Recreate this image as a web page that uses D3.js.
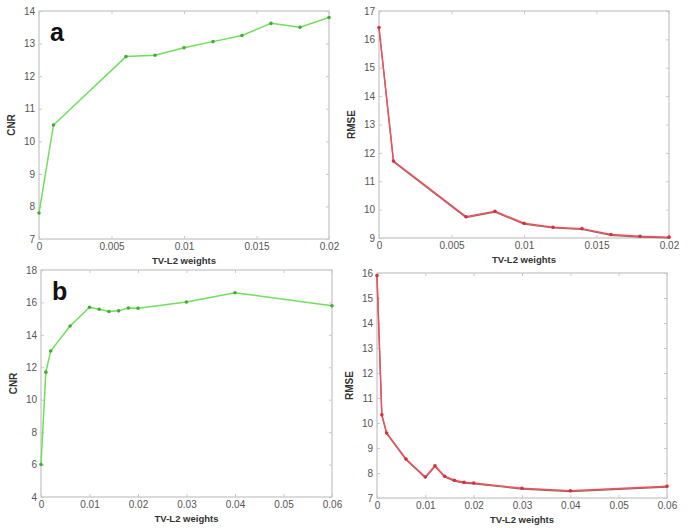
<!DOCTYPE html>
<html><head><meta charset="utf-8">
<script src="https://cdn.jsdelivr.net/npm/d3@7"></script>
<style>body{margin:0;background:#fff}svg{display:block}</style>
</head><body>
<script>
// ---- data ----
const xA = [0, 0.001, 0.006, 0.008, 0.01, 0.012, 0.014, 0.016, 0.018, 0.02];
const cnrA = [7.8, 10.5, 12.6, 12.64, 12.87, 13.06, 13.25, 13.62, 13.5, 13.8];
const rmseA = [16.42, 11.71, 9.75, 9.94, 9.52, 9.38, 9.33, 9.12, 9.06, 9.03];
const xB = [0, 0.001, 0.002, 0.006, 0.01, 0.012, 0.014, 0.016, 0.018, 0.02, 0.03, 0.04, 0.06];
const cnrB = [6.0, 11.7, 13.0, 14.55, 15.7, 15.58, 15.44, 15.48, 15.66, 15.64, 16.03, 16.6, 15.79];
const rmseB = [15.9, 10.33, 9.6, 8.56, 7.84, 8.29, 7.87, 7.71, 7.63, 7.6, 7.39, 7.29, 7.47];
const xTicksA = [0, 0.005, 0.01, 0.015, 0.02];
const xTicksB = [0, 0.01, 0.02, 0.03, 0.04, 0.05, 0.06];
const xTickLabelsA = ["0", "0.005", "0.01", "0.015", "0.02"];
const xTickLabelsB = ["0", "0.01", "0.02", "0.03", "0.04", "0.05", "0.06"];
const yTicksCnrA = [7, 8, 9, 10, 11, 12, 13, 14];
const yTicksRmseA = [9, 10, 11, 12, 13, 14, 15, 16, 17];
const yTicksCnrB = [4, 6, 8, 10, 12, 14, 16, 18];
const yTicksRmseB = [7, 8, 9, 10, 11, 12, 13, 14, 15, 16];

const W = 691, H = 528;
const svg = d3.select("body").append("svg").attr("width", W).attr("height", H);
const font = "Liberation Sans, Arial, sans-serif";

function panel(o) {
  const x = d3.scaleLinear().domain(o.xDom).range([o.l, o.r]);
  const y = d3.scaleLinear().domain(o.yDom).range([o.b, o.t]);
  const g = svg.append("g");
  const axisCol = "#c8c8c8";
  g.append("rect").attr("x", o.l).attr("y", o.t).attr("width", o.r - o.l).attr("height", o.b - o.t)
    .attr("fill", "none").attr("stroke", axisCol).attr("stroke-width", 1.3);
  const xa = d3.axisBottom(x).tickValues(o.xTicks).tickFormat((d, i) => o.xLabels[i]).tickSizeInner(-3).tickSizeOuter(0).tickPadding(4);
  const ya = d3.axisLeft(y).tickValues(o.yTicks).tickFormat(d3.format("d")).tickSizeInner(-3).tickSizeOuter(0).tickPadding(4);
  const gx = g.append("g").attr("transform", `translate(0,${o.b})`).call(xa);
  const gy = g.append("g").attr("transform", `translate(${o.l},0)`).call(ya);
  const gxt = g.append("g").attr("transform", `translate(0,${o.t})`).call(d3.axisTop(x).tickValues(o.xTicks).tickFormat("").tickSizeInner(-3).tickSizeOuter(0));
  const gyr = g.append("g").attr("transform", `translate(${o.r},0)`).call(d3.axisRight(y).tickValues(o.yTicks).tickFormat("").tickSizeInner(-3).tickSizeOuter(0));
  [gx, gy, gxt, gyr].forEach(a => {
    a.select(".domain").remove();
    a.selectAll(".tick line").attr("stroke", axisCol);
    a.selectAll("text").attr("fill", "#555").style("font-family", font).style("font-size", "10px");
  });
  g.append("text").attr("x", (o.l + o.r) / 2).attr("y", o.b + 25).attr("text-anchor", "middle")
    .style("font-family", font).style("font-size", "9.5px").style("font-weight", "bold").attr("fill", "#333").text("TV-L2 weights");
  g.append("text").attr("transform", `translate(${o.l - 24},${(o.t + o.b) / 2}) rotate(-90)`).attr("text-anchor", "middle")
    .style("font-family", font).style("font-size", "10px").style("font-weight", "bold").attr("fill", "#333").text(o.yTitle);
  const data = o.xs.map((v, i) => [v, o.ys[i]]);
  const line = d3.line().x(d => x(d[0])).y(d => y(d[1]));
  if (o.shadow) g.append("path").datum(data).attr("d", line).attr("fill", "none").attr("stroke", o.shadow).attr("stroke-width", 1.2).attr("transform", "translate(0,0.8)");
  g.append("path").datum(data).attr("d", line).attr("fill", "none").attr("stroke", o.color).attr("stroke-width", 1.5);
  g.selectAll("circle.m").data(data).enter().append("circle").attr("cx", d => x(d[0])).attr("cy", d => y(d[1]))
    .attr("r", 1.8).attr("fill", o.marker);
  if (o.letter) g.append("text").attr("x", o.l + 11).attr("y", o.t + 30).style("font-family", font)
    .style("font-size", "25px").style("font-weight", "bold").attr("fill", "#111").text(o.letter);
}

panel({l: 39, r: 329, t: 11, b: 239, xDom: [0, 0.02], yDom: [7, 14], xTicks: xTicksA, xLabels: xTickLabelsA, yTicks: yTicksCnrA,
  xs: xA, ys: cnrA, color: "#6ee05a", marker: "#3fae2f", yTitle: "CNR", letter: "a"});
panel({l: 379, r: 669, t: 11, b: 238, xDom: [0, 0.02], yDom: [9, 17], xTicks: xTicksA, xLabels: xTickLabelsA, yTicks: yTicksRmseA,
  xs: xA, ys: rmseA, color: "#f0505a", marker: "#d8303a", shadow: "#8a6a6a", yTitle: "RMSE"});
panel({l: 41, r: 332, t: 270, b: 497, xDom: [0, 0.06], yDom: [4, 18], xTicks: xTicksB, xLabels: xTickLabelsB, yTicks: yTicksCnrB,
  xs: xB, ys: cnrB, color: "#6ee05a", marker: "#3fae2f", yTitle: "CNR", letter: "b"});
panel({l: 377, r: 667, t: 273, b: 498, xDom: [0, 0.06], yDom: [7, 16], xTicks: xTicksB, xLabels: xTickLabelsB, yTicks: yTicksRmseB,
  xs: xB, ys: rmseB, color: "#f0505a", marker: "#d8303a", shadow: "#8a6a6a", yTitle: "RMSE"});
</script>
</body></html>
